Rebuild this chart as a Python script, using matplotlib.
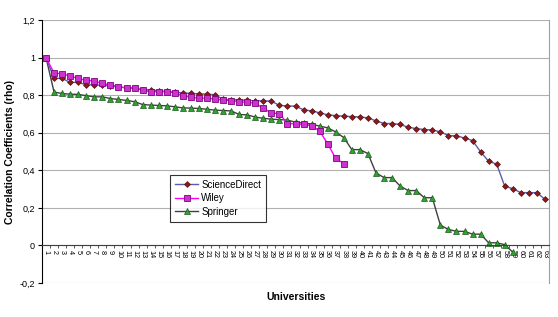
import matplotlib
matplotlib.use("Agg")
import matplotlib.pyplot as plt
import numpy as np

plt.rcParams['font.family'] = ['Liberation Sans', 'DejaVu Sans']

universities = [str(i) for i in range(1, 64)]

science_direct = [1.0, 0.889, 0.889, 0.868, 0.868, 0.855, 0.855, 0.852, 0.850, 0.843,
                  0.839, 0.836, 0.830, 0.828, 0.823, 0.820, 0.816, 0.812, 0.809, 0.807,
                  0.805, 0.802, 0.777, 0.775, 0.775, 0.772, 0.770, 0.770, 0.768, 0.745,
                  0.743, 0.741, 0.722, 0.716, 0.706, 0.695, 0.691, 0.688, 0.686, 0.684,
                  0.679, 0.663, 0.649, 0.649, 0.644, 0.629, 0.622, 0.617, 0.615, 0.604,
                  0.585, 0.583, 0.572, 0.558, 0.498, 0.448, 0.433, 0.315, 0.302, 0.281,
                  0.281, 0.281, 0.245]
wiley = [1.0, 0.917, 0.914, 0.901, 0.889, 0.878, 0.876, 0.862, 0.855, 0.845,
         0.839, 0.838, 0.827, 0.818, 0.818, 0.818, 0.812, 0.797, 0.788, 0.784,
         0.784, 0.779, 0.773, 0.771, 0.766, 0.761, 0.757, 0.730, 0.705, 0.702,
         0.649, 0.647, 0.644, 0.637, 0.609, 0.541, 0.463, 0.436]
springer = [1.0, 0.816, 0.809, 0.805, 0.804, 0.797, 0.791, 0.791, 0.782, 0.777,
            0.772, 0.765, 0.750, 0.747, 0.745, 0.743, 0.738, 0.732, 0.731, 0.729,
            0.725, 0.720, 0.718, 0.716, 0.697, 0.695, 0.683, 0.677, 0.672, 0.670,
            0.667, 0.656, 0.652, 0.645, 0.635, 0.626, 0.604, 0.574, 0.510, 0.510,
            0.489, 0.386, 0.361, 0.361, 0.316, 0.292, 0.292, 0.254, 0.254, 0.108,
            0.085, 0.075, 0.075, 0.060, 0.060, 0.014, 0.014, 0.004, -0.036]
y_ticks = [-0.2, 0, 0.2, 0.4, 0.6, 0.8, 1.0, 1.2]
y_tick_labels = ["-0,2", "0", "0,2", "0,4", "0,6", "0,8", "1", "1,2"]

fig = plt.figure(figsize=(5.58, 3.17), dpi=100)
ax = fig.add_axes([42/558, 1 - 283/317, (549-42)/558, (283-20)/317])

for y in y_ticks:
    ax.axhline(y, color='#b0b0b0', lw=0.8, zorder=0)

x_sd = np.arange(1, len(science_direct) + 1)
x_w = np.arange(1, len(wiley) + 1)
x_s = np.arange(1, len(springer) + 1)

ax.plot(x_sd, science_direct, color='#5b5bb0', lw=1.0, marker='D', ms=3.0,
        mfc='#8b1a1a', mec='#5a0f0f', mew=0.5, label='ScienceDirect', zorder=3)
ax.plot(x_w, wiley, color='#ff00ff', lw=1.0, marker='s', ms=4.0,
        mfc='#cc33cc', mec='#800080', mew=0.6, label='Wiley', zorder=4)
ax.plot(x_s, springer, color='#404040', lw=1.0, marker='^', ms=4.0,
        mfc='#33a033', mec='#1a5c1a', mew=0.5, label='Springer', zorder=2)

ax.set_xlim(0.5, len(universities) + 0.5)
ax.set_ylim(-0.2, 1.2)
ax.set_yticks(y_ticks)
ax.set_yticklabels(y_tick_labels, fontsize=6.5)
ax.tick_params(axis='y', length=3, width=0.8, pad=2)

ax.spines['bottom'].set_position(('data', 0))
ax.spines['bottom'].set_color('#404040')
ax.spines['left'].set_color('black')
ax.spines['top'].set_visible(False)
ax.spines['right'].set_color('#a0a0a0')

ax.set_xticks(np.arange(1, len(universities) + 1))
ax.set_xticklabels(universities, rotation=-90, fontsize=5.2)
ax.set_xticks(np.arange(0.5, len(universities) + 1, 1.0), minor=True)
ax.tick_params(axis='x', which='major', length=0, pad=3)
ax.tick_params(axis='x', which='minor', length=2.5, width=0.6, color='#404040')

fig.text(296/558, 1 - 297/317, 'Universities', ha='center', va='center',
         fontsize=7.5, fontweight='bold')
fig.text(10/558, 1 - 152/317, 'Correlation Coefficients (rho)', ha='center', va='center',
         rotation=90, fontsize=7.5, fontweight='bold')

leg = ax.legend(loc='upper left', bbox_to_anchor=((170-42)/507, (283-175)/263),
                borderaxespad=0, fontsize=7, frameon=True, fancybox=False,
                edgecolor='black', borderpad=0.5, labelspacing=0.35,
                handlelength=2.4, handletextpad=0.3)
leg.get_frame().set_linewidth(0.8)
leg._legend_box.align = 'left'
for t in leg.get_texts():
    t.set_ha('left')

fig.savefig('out.png', dpi=100)
